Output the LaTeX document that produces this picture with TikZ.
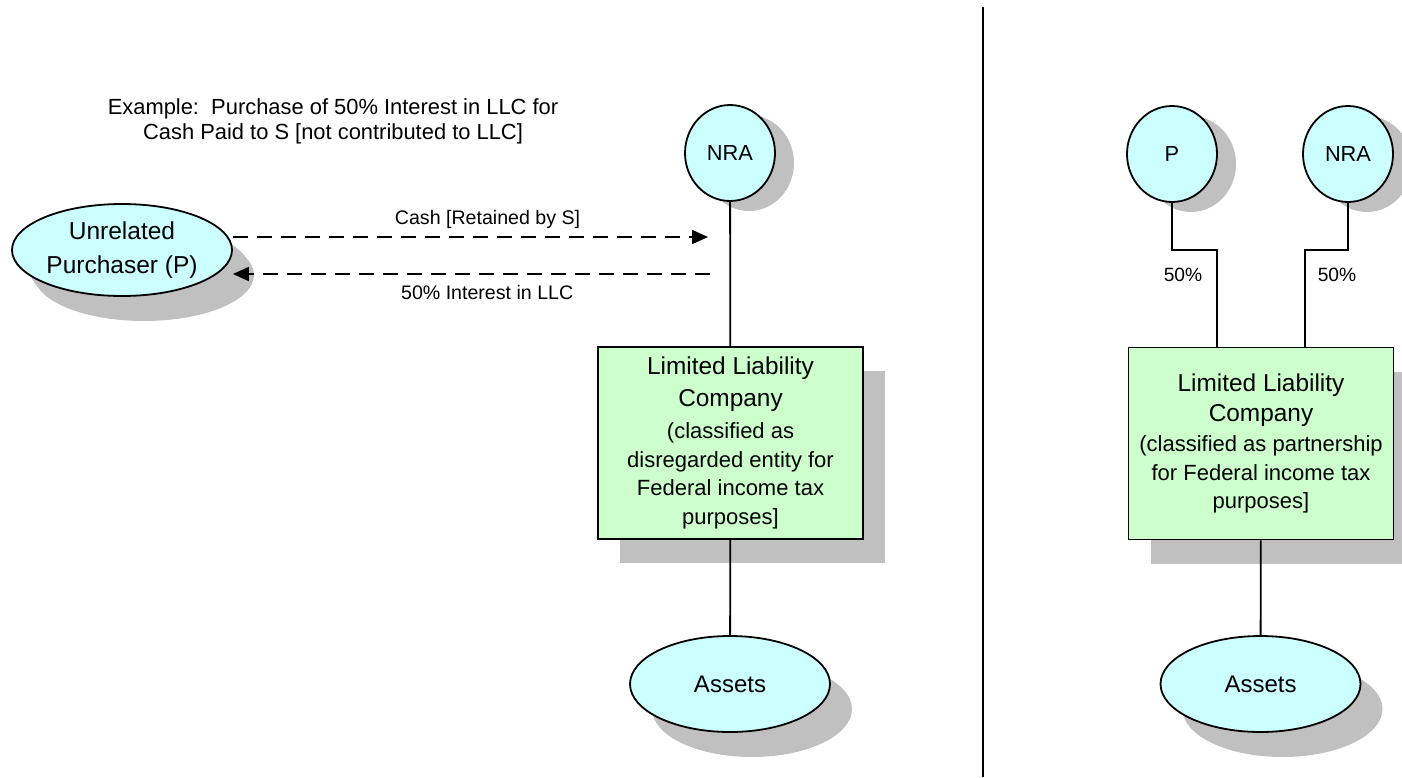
\documentclass[tikz,border=0pt]{standalone}
\usepackage{fontspec}
\setmainfont{Liberation Sans}
\usetikzlibrary{shapes.geometric,shadows,arrows.meta}
\definecolor{nodecyan}{RGB}{204,255,255}
\definecolor{boxgreen}{RGB}{204,255,204}
\definecolor{shadowgray}{RGB}{192,192,192}
\tikzset{
    owner/.style={ellipse,draw,fill=nodecyan,line width=1.8pt,inner sep=0pt,
        minimum width=90pt,minimum height=96pt,font=\fontsize{21.8}{26}\selectfont,
        drop shadow={shadow xshift=19pt,shadow yshift=-10pt,fill=shadowgray,opacity=1}},
    holding/.style={ellipse,draw,fill=nodecyan,line width=1.8pt,inner sep=0pt,
        minimum width=200pt,minimum height=96pt,font=\fontsize{24}{28}\selectfont,
        drop shadow={shadow xshift=22pt,shadow yshift=-25pt,fill=shadowgray,opacity=1}},
    llcbox/.style={rectangle,draw,fill=boxgreen,line width=1.8pt,inner sep=0pt,
        minimum width=265pt,minimum height=192pt,align=center,
        font=\fontsize{22}{28.5}\selectfont,
        drop shadow={shadow xshift=22pt,shadow yshift=-24pt,fill=shadowgray,opacity=1}},
    link/.style={line width=1.8pt},
    flow/.style={line width=1.8pt,dash pattern=on 15pt off 9pt,
        -{Triangle[length=16pt,width=14pt]}},
    flowlabel/.style={font=\fontsize{19.6}{23}\selectfont},
    pct/.style={font=\fontsize{19.2}{23}\selectfont}
}
\newcommand{\bigline}[1]{{\fontsize{24.4}{28.5}\selectfont #1}}

\begin{document}
\begin{tikzpicture}[x=1pt,y=-1pt]
    \useasboundingbox (0,0) rectangle (1402,777);

    \node[align=center,font=\fontsize{21.9}{25}\selectfont] (title) at (333,121)
        {Example:\ \ Purchase of 50\% Interest in LLC for\\Cash Paid to S [not contributed to LLC]};

    \node[holding,minimum width=220pt,minimum height=92pt,align=center,
        font=\fontsize{24.5}{34}\selectfont,
        drop shadow={shadow xshift=18pt,shadow yshift=-20pt,fill=shadowgray,opacity=1}]
        (buyer) at (122,250) {Unrelated\\Purchaser (P)};
    \node[owner] (nra1) at (730,153) {NRA};
    \node[llcbox] (llc1) at (730.5,443) {\bigline{Limited Liability}\\[3.5pt]
        \bigline{Company}\\[3.5pt](classified as\\disregarded entity for\\
        Federal income tax\\purposes]};
    \node[holding] (assets1) at (730,684) {Assets};

    \coordinate (cashend) at (708,237);
    \coordinate (sharestart) at (710,274);
    \draw[flow] (buyer.east |- cashend) -- (cashend)
        node[flowlabel,pos=.536,yshift=18pt] {Cash [Retained by S]};
    \draw[flow] (sharestart) -- (buyer.east |- sharestart)
        node[flowlabel,pos=.467,yshift=-18pt] {50\% Interest in LLC};
    \draw[link] (nra1) -- (llc1);
    \draw[link] (llc1) -- (assets1);

    \draw[line width=2.5pt] (983,7) -- (983,777);

    \node[owner] (pbuyer) at (1172,154) {P};
    \node[owner] (nra2) at (1348,154) {NRA};
    \node[llcbox] (llc2) at (1261,443.5) {\bigline{Limited Liability}\\[1.5pt]
        \bigline{Company}\\[1.5pt](classified as partnership\\for Federal income tax\\
        purposes]};
    \node[holding] (assets2) at (1260.5,684) {Assets};

    \draw[link] (pbuyer.south) -- ++(0,47) -| ([xshift=-44pt]llc2.north)
        node[pct,pos=.63,xshift=-34pt] {50\%};
    \draw[link] (nra2.south) -- ++(0,47) -| ([xshift=44pt]llc2.north)
        node[pct,pos=.63,xshift=32pt] {50\%};
    \draw[link] (llc2) -- (assets2);
\end{tikzpicture}
\end{document}
